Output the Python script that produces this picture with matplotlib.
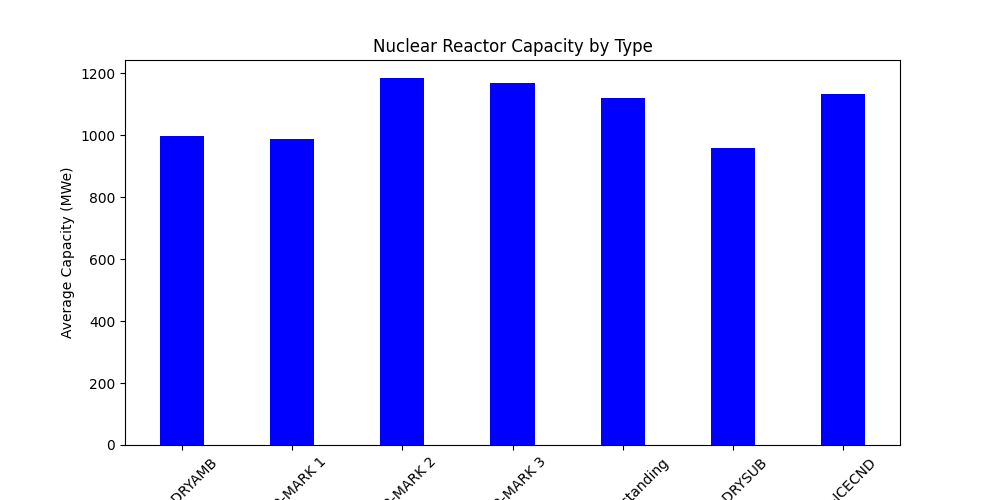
import matplotlib
matplotlib.use("Agg")
import matplotlib.pyplot as plt

types = ["PWR-DRYAMB", "BWR-MARK 1", "BWR-MARK 2", "BWR-MARK 3",
         "PWR-Freestanding", "PWR-DRYSUB", "PWR-ICECND"]
capacity = [997, 987, 1184, 1168, 1119, 958, 1133]

fig = plt.figure(figsize=(10, 5))
plt.bar(types, capacity, color="blue", width=0.4)
plt.ylabel("Average Capacity (MWe)")
plt.title("Nuclear Reactor Capacity by Type")
plt.xticks(rotation=45)
plt.savefig("out.png")
